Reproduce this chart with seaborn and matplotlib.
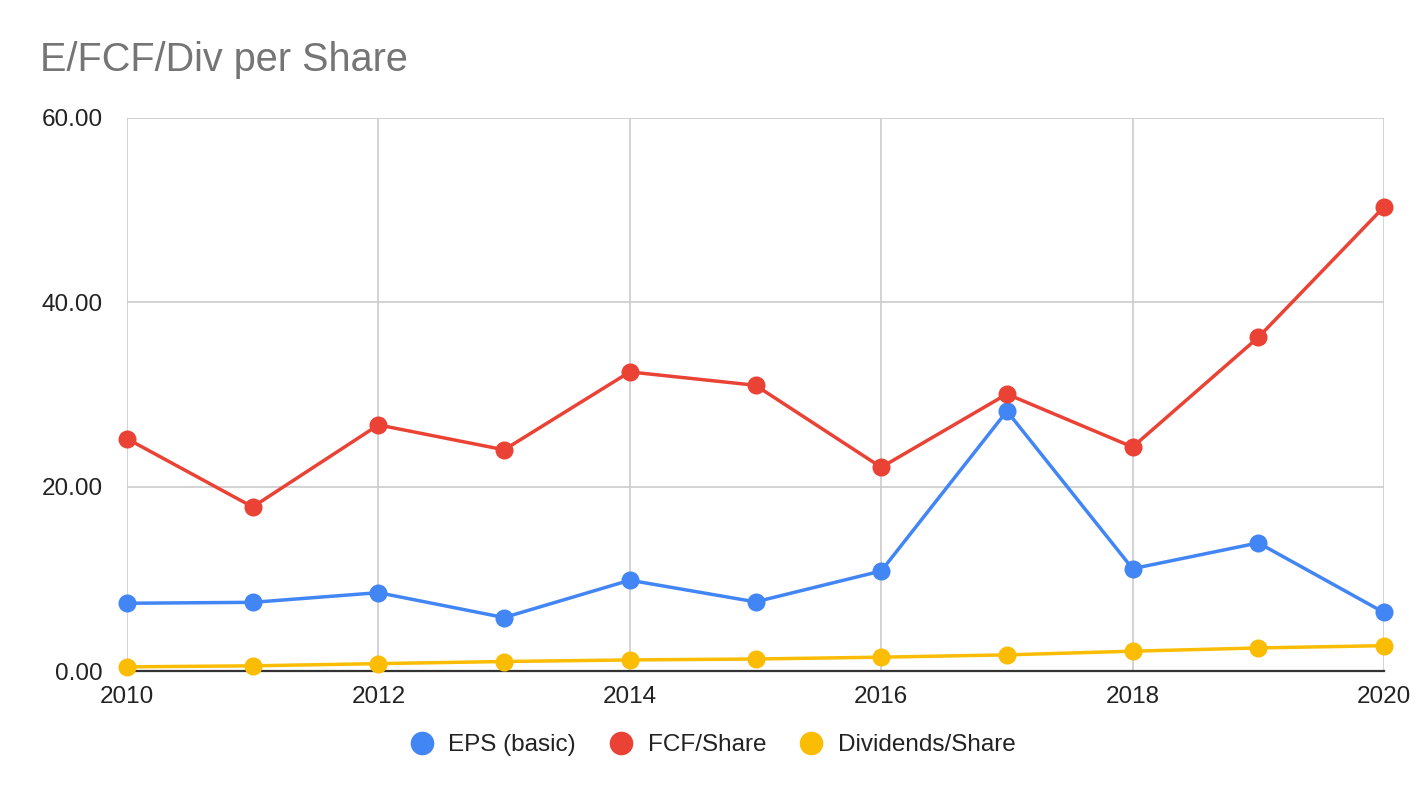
import matplotlib
matplotlib.use("Agg")
import matplotlib.pyplot as plt
from matplotlib.lines import Line2D
import seaborn as sns
import pandas as pd

years = [2010, 2011, 2012, 2013, 2014, 2015, 2016, 2017, 2018, 2019, 2020]
eps_basic = [7.35, 7.45, 8.5, 5.8, 9.85, 7.5, 10.85, 28.2, 11.1, 13.9, 6.35]
fcf_share = [25.2, 17.8, 26.7, 24.0, 32.45, 31.0, 22.1, 30.05, 24.3, 36.2, 50.35]
div_share = [0.45, 0.56, 0.8, 1.03, 1.2, 1.3, 1.5, 1.75, 2.15, 2.5, 2.75]
series_names = ["EPS (basic)", "FCF/Share", "Dividends/Share"]
colors = ["#4285F4", "#EA4335", "#FBBC04"]
title = "E/FCF/Div per Share"
x_ticks = [2010, 2012, 2014, 2016, 2018, 2020]
y_ticks = [0, 20, 40, 60]

df = pd.concat([
    pd.DataFrame({"year": years, "value": vals, "series": name})
    for name, vals in zip(series_names, [eps_basic, fcf_share, div_share])
])

sns.set_theme(style="white")
plt.rcParams['font.family'] = ['Liberation Sans', 'DejaVu Sans']

fig = plt.figure(figsize=(14.24, 7.98), dpi=100)
ax = fig.add_axes([127/1424, 1-671/798, (1384-127)/1424, (671-118)/798])

sns.lineplot(data=df, x="year", y="value", hue="series", hue_order=series_names,
             palette=colors, marker="o", markersize=13, markeredgewidth=0,
             linewidth=2.5, ax=ax, legend=False, clip_on=False, zorder=3)

ax.set_xlim(2010, 2020)
ax.set_ylim(0, 60)
ax.set_xticks(x_ticks)
ax.set_yticks(y_ticks)
ax.set_yticklabels([f"{v:.2f}" for v in y_ticks])
ax.set_xlabel("")
ax.set_ylabel("")
ax.grid(True, color="#cccccc", linewidth=1.2)
ax.set_axisbelow(True)
for s in ["top", "right", "left"]:
    ax.spines[s].set_visible(False)
ax.spines["bottom"].set_color("#333333")
ax.spines["bottom"].set_linewidth(1.6)
ax.spines["bottom"].set_zorder(2)
ax.tick_params(axis="both", length=0, labelsize=17.5, colors="#222222")
ax.tick_params(axis="y", pad=17.5)
ax.tick_params(axis="x", pad=11)

fig.text(40/1424, 1-60/798, title, fontsize=28.5, color="#757575", va="center", ha="left")

handles = [Line2D([0], [0], marker="o", color="none", markerfacecolor=c,
                  markeredgewidth=0, markersize=17) for c in colors]
fig.legend(handles, series_names, loc="center", bbox_to_anchor=(712/1424, 1-745/798),
           ncol=3, frameon=False, fontsize=17.5, handletextpad=0.55, columnspacing=1.3,
           handlelength=1.1, labelcolor="#222222")

fig.savefig("out.png", dpi=100)
